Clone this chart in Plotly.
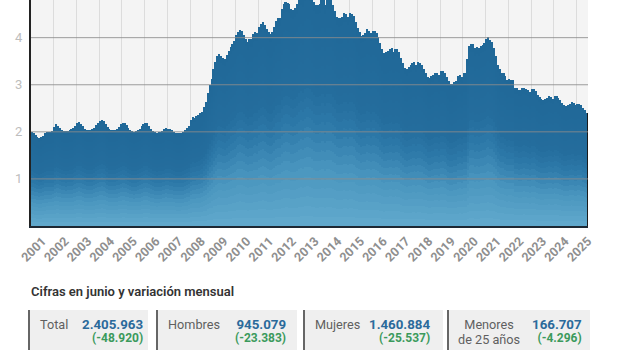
import plotly.graph_objects as go

# ---------------- data (millions of registered unemployed, monthly Jan 2001 - Jun 2025)
anios = ["2001", "2002", "2003", "2004", "2005", "2006", "2007", "2008", "2009",
         "2010", "2011", "2012", "2013", "2014", "2015", "2016", "2017", "2018",
         "2019", "2020", "2021", "2022", "2023", "2024", "2025"]

paro_millones = [
    2.00, 1.98, 1.94, 1.90, 1.87, 1.88, 1.92, 1.97, 1.99, 2.00, 2.00, 2.01,  # 2001
    2.10, 2.16, 2.13, 2.08, 2.04, 2.02, 2.01, 2.02, 2.03, 2.05, 2.08, 2.12,  # 2002
    2.18, 2.20, 2.17, 2.12, 2.07, 2.04, 2.03, 2.04, 2.05, 2.09, 2.14, 2.19,  # 2003
    2.23, 2.25, 2.22, 2.17, 2.10, 2.05, 2.03, 2.03, 2.04, 2.07, 2.11, 2.16,  # 2004
    2.19, 2.18, 2.14, 2.09, 2.04, 2.01, 2.00, 2.01, 2.03, 2.07, 2.12, 2.17,  # 2005
    2.19, 2.18, 2.13, 2.07, 2.02, 1.99, 1.98, 1.99, 2.00, 2.02, 2.05, 2.08,  # 2006
    2.07, 2.06, 2.03, 2.00, 1.98, 1.97, 1.97, 1.98, 1.99, 2.03, 2.08, 2.13,  # 2007
    2.261, 2.315, 2.301, 2.339, 2.353, 2.390, 2.426, 2.530, 2.625, 2.818, 2.989, 3.129,  # 2008
    3.327, 3.481, 3.605, 3.645, 3.620, 3.565, 3.544, 3.629, 3.709, 3.808, 3.869, 3.924,  # 2009
    4.048, 4.131, 4.166, 4.142, 4.066, 3.982, 3.909, 3.970, 3.973, 4.085, 4.110, 4.100,  # 2010
    4.231, 4.300, 4.334, 4.270, 4.190, 4.122, 4.080, 4.130, 4.226, 4.361, 4.420, 4.422,  # 2011
    4.599, 4.712, 4.751, 4.744, 4.714, 4.615, 4.587, 4.625, 4.705, 4.833, 4.908, 4.849,  # 2012
    4.981, 5.040, 5.035, 4.989, 4.890, 4.763, 4.698, 4.699, 4.724, 4.811, 4.808, 4.701,  # 2013
    4.814, 4.812, 4.795, 4.684, 4.572, 4.449, 4.420, 4.428, 4.447, 4.526, 4.512, 4.448,  # 2014
    4.525, 4.512, 4.452, 4.333, 4.215, 4.120, 4.046, 4.067, 4.094, 4.176, 4.149, 4.094,  # 2015
    4.151, 4.152, 4.094, 4.011, 3.891, 3.768, 3.684, 3.697, 3.720, 3.764, 3.789, 3.703,  # 2016
    3.761, 3.750, 3.702, 3.573, 3.461, 3.363, 3.335, 3.382, 3.410, 3.467, 3.474, 3.413,  # 2017
    3.476, 3.470, 3.422, 3.336, 3.252, 3.162, 3.135, 3.183, 3.202, 3.254, 3.252, 3.202,  # 2018
    3.285, 3.289, 3.255, 3.163, 3.079, 3.015, 3.011, 3.065, 3.079, 3.177, 3.198, 3.164,  # 2019
    3.253, 3.246, 3.549, 3.832, 3.857, 3.863, 3.773, 3.802, 3.776, 3.826, 3.851, 3.889,  # 2020
    3.965, 4.009, 3.950, 3.910, 3.781, 3.614, 3.416, 3.333, 3.257, 3.257, 3.182, 3.106,  # 2021
    3.124, 3.111, 3.108, 2.922, 2.922, 2.880, 2.883, 2.924, 2.935, 2.914, 2.881, 2.837,  # 2022
    2.908, 2.911, 2.862, 2.789, 2.739, 2.689, 2.678, 2.703, 2.722, 2.759, 2.734, 2.707,  # 2023
    2.767, 2.760, 2.727, 2.666, 2.607, 2.561, 2.550, 2.572, 2.598, 2.625, 2.609, 2.561,  # 2024
    2.599, 2.593, 2.580, 2.513, 2.455, 2.406,                                          # 2025
]

y_ticks = [1, 2, 3, 4]

titulo = "Cifras en junio y variación mensual"
etiquetas = ["Total", "Hombres", "Mujeres", "Menores<br>de 25 años"]
cifras = ["2.405.963", "945.079", "1.460.884", "166.707"]
variaciones = ["(-48.920)", "(-23.383)", "(-25.537)", "(-4.296)"]

# ---------------- figure
W, H = 620, 350
L, R, T, B = 31, 32, 0, 124
PW, PH = W - L - R, H - T - B

n = len(paro_millones)
idx = list(range(n))

# vertical gradient inside each bar, built as stacked slices
stops = [(0.0, (98, 170, 205)), (0.25, (74, 150, 191)), (0.45, (45, 121, 169)),
         (0.6, (36, 109, 157)), (1.0, (32, 104, 152))]


def grad(t):
    for (a, ca), (b, cb) in zip(stops[:-1], stops[1:]):
        if a <= t <= b:
            f = (t - a) / (b - a)
            c = [round(ca[i] + (cb[i] - ca[i]) * f) for i in range(3)]
            return "rgb(%d,%d,%d)" % tuple(c)
    return "rgb(%d,%d,%d)" % stops[-1][1]


N = 24
fig = go.Figure()
for k in range(N):
    fig.add_trace(go.Bar(
        x=idx, y=[v / N for v in paro_millones],
        marker=dict(color=grad((k + 0.5) / N), line=dict(width=0)),
        showlegend=False, hoverinfo="skip"))

# dark edge on the latest bar
fig.add_trace(go.Bar(
    x=[idx[-1]], y=[paro_millones[-1]], width=[0.16], offset=[0.34],
    marker=dict(color="#1b1b1b", line=dict(width=0)), xaxis="x2",
    showlegend=False, hoverinfo="skip"))

year_mid = [12 * i + 5.5 for i in range(len(anios))]
year_start = [12 * i - 0.5 for i in range(1, len(anios))]
xr = [-0.5, n - 0.5]

fig.update_layout(
    width=W, height=H,
    margin=dict(l=L, r=R, t=T, b=B, pad=0),
    paper_bgcolor="white", plot_bgcolor="#f4f4f4",
    barmode="stack", bargap=0.12,
    font=dict(family="Roboto", color="#555"),
    xaxis=dict(range=xr, tickmode="array", tickvals=year_mid, ticktext=anios,
               tickangle=-45, showgrid=False, ticks="",
               tickfont=dict(size=12.5, color="#8f8f8f", weight="bold"),
               ticklabelstandoff=1,
               showline=True, linecolor="#1d2833", linewidth=2, layer="above traces",
               minor=dict(tickmode="array", tickvals=year_start, showgrid=True,
                          gridcolor="#dcdcdc", gridwidth=1, ticks=""),
               zeroline=False, automargin=False, fixedrange=True),
    xaxis2=dict(range=xr, overlaying="x", visible=False, fixedrange=True),
    yaxis=dict(range=[0, 4.8], tickmode="array", tickvals=y_ticks,
               showgrid=False, zeroline=False, ticks="",
               tickfont=dict(size=13, color="#bdbdbd"), ticklabelstandoff=4,
               showline=True, linecolor="#222", linewidth=2, layer="above traces",
               automargin=False, fixedrange=True),
)

for t in y_ticks:
    fig.add_shape(type="line", xref="x domain", x0=0, x1=1, yref="y", y0=t, y1=t,
                  line=dict(color="rgba(140,140,140,0.85)", width=1), layer="above")


def px_x(p):
    return (p - L) / PW


def px_y(p):
    return (T + PH - p) / PH


# section title
fig.add_annotation(text=titulo, xref="paper", yref="paper", x=px_x(29), y=px_y(291.5),
                   xanchor="left", yanchor="middle", showarrow=False,
                   font=dict(size=13, color="#333", weight=600))

boxes = [(28, 148), (156, 297), (303, 443), (447, 590)]
label_x = [38, 166, 313, 489]
value_right = [145, 288, 432, 584]
for i, (x0, x1) in enumerate(boxes):
    fig.add_shape(type="rect", xref="paper", yref="paper",
                  x0=px_x(x0), x1=px_x(x1), y0=px_y(365), y1=px_y(310),
                  fillcolor="#efefef", line=dict(width=0), layer="below")
    fig.add_shape(type="line", xref="paper", yref="paper",
                  x0=px_x(x0 + 1), x1=px_x(x0 + 1), y0=px_y(365), y1=px_y(310),
                  line=dict(color="#666", width=2))
    if i < 3:
        fig.add_annotation(text=etiquetas[i], xref="paper", yref="paper",
                           x=px_x(label_x[i]), y=px_y(324.5), xanchor="left",
                           yanchor="middle", showarrow=False,
                           font=dict(size=12.7, color="#5f5f5f"))
    else:
        fig.add_annotation(
            text="<span style='font-size:12.7px'>" + etiquetas[i].replace(
                "<br>", "</span><br><span style='font-size:12.7px'>") + "</span>",
            xref="paper", yref="paper",
            x=px_x(label_x[i]), y=px_y(331.5), xanchor="center",
            yanchor="middle", showarrow=False, align="center",
            font=dict(size=11.5, color="#5f5f5f"))
    fig.add_annotation(
        text=("<span style='font-size:13.3px;color:#2b6a9b'><b>%s</b></span><br>"
              "<span style='font-size:12px;color:#3b9a5c'><b>%s</b></span>")
        % (cifras[i], variaciones[i]),
        xref="paper", yref="paper", x=px_x(value_right[i]), y=px_y(331),
        xanchor="right", yanchor="middle", align="right", showarrow=False,
        font=dict(size=10, color="#2b6a9b"))

fig.write_html("out.html", config={"displayModeBar": False})
